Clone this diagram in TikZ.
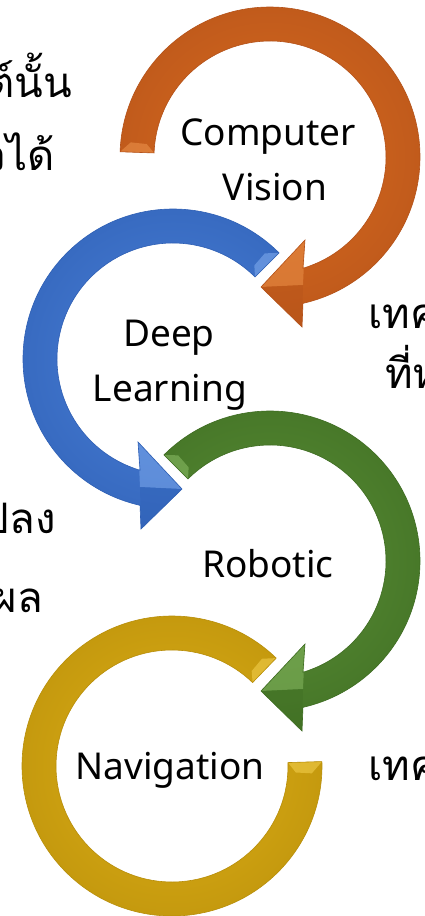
\documentclass[tikz,border=0pt]{standalone}
\usepackage{fontspec}
\setmainfont{Noto Sans}
\newfontfamily\thaifont[Script=Thai]{Loma}
\definecolor{oD}{HTML}{B4521A}
\definecolor{oM}{HTML}{D96B1E}
\definecolor{oL}{HTML}{F29A52}
\definecolor{bD}{HTML}{2E5FB4}
\definecolor{bM}{HTML}{4A80D8}
\definecolor{bL}{HTML}{8AB4F4}
\definecolor{gD}{HTML}{3E6C22}
\definecolor{gM}{HTML}{5A8F36}
\definecolor{gL}{HTML}{92C46C}
\definecolor{yD}{HTML}{B88E0A}
\definecolor{yM}{HTML}{DDAF16}
\definecolor{yL}{HTML}{F8D656}
\pgfdeclareradialshading{ringO}{\pgfpointorigin}{color(0bp)=(oM); color(32.2bp)=(oD); color(34bp)=(oM); color(36.2bp)=(oL); color(39bp)=(oM); color(41.7bp)=(oD); color(42.2bp)=(oM); color(50bp)=(oM)}
\pgfdeclareradialshading{ringB}{\pgfpointorigin}{color(0bp)=(bM); color(32.2bp)=(bD); color(34bp)=(bM); color(36.2bp)=(bL); color(39bp)=(bM); color(41.7bp)=(bD); color(42.2bp)=(bM); color(50bp)=(bM)}
\pgfdeclareradialshading{ringG}{\pgfpointorigin}{color(0bp)=(gM); color(32.2bp)=(gD); color(34bp)=(gM); color(36.2bp)=(gL); color(39bp)=(gM); color(41.7bp)=(gD); color(42.2bp)=(gM); color(50bp)=(gM)}
\pgfdeclareradialshading{ringY}{\pgfpointorigin}{color(0bp)=(yM); color(32.2bp)=(yD); color(34bp)=(yM); color(36.2bp)=(yL); color(39bp)=(yM); color(41.7bp)=(yD); color(42.2bp)=(yM); color(50bp)=(yM)}
% arrow outlines (relative to ring centre)
\def\pathO{(182:150) arc[start angle=182,end angle=437.3,radius=150] -- (32,170) -- (-9,130) -- (35,83) -- (433.5:116) arc[start angle=433.5,end angle=182,radius=116] -- cycle}
\def\pathG{(225:150) arc[start angle=225,end angle=437.3,radius=150] -- (32,170) -- (-9,130) -- (35,83) -- (433.5:116) arc[start angle=433.5,end angle=225,radius=116] -- cycle}
\def\pathB{(-45:150) arc[start angle=-45,end angle=-257.3,radius=150] -- (-32,170) -- (9,130) -- (-35,83) -- (-253.5:116) arc[start angle=-253.5,end angle=-45,radius=116] -- cycle}
\def\pathY{(-46:150) arc[start angle=-46,end angle=-361.7,radius=150] -- (-361.7:116) arc[start angle=-361.7,end angle=-46,radius=116] -- cycle}
\tikzset{
  lbl/.style={font=\fontsize{37}{37}\selectfont, text=black, inner sep=0pt, anchor=base},
  thl/.style={font=\thaifont\fontsize{42}{42}\selectfont, text=black, inner sep=0pt},
  edge/.style={line width=0.6pt}
}
\begin{document}
\begin{tikzpicture}[x=1pt,y=1pt,yscale=-1]
\useasboundingbox (0,0) rectangle (424,916);
\clip (0,0) rectangle (424,916);
\fill[white] (0,0) rectangle (424,916);
% yellow ring
\begin{scope}[shift={(172,766)}]
  \begin{scope}\clip \pathY; \shade[shading=ringY] (0,0) circle[radius=180]; \end{scope}
  \fill[yL, opacity=0.5] (-46:116) -- (-46:150) -- (-50:140) -- (-50:124) -- cycle;
  \fill[yL, opacity=0.5] (-361.7:116) -- (-361.7:150) -- (-357:140) -- (-357:124) -- cycle;
  \draw[edge, yD] \pathY;
\end{scope}
% green arrow
\begin{scope}[shift={(270,561)}]
  \begin{scope}\clip \pathG; \shade[shading=ringG] (0,0) circle[radius=180]; \end{scope}
  \fill[gL, opacity=0.5] (225:116) -- (225:150) -- (229:140) -- (229:124) -- cycle;
  \fill[gL, opacity=0.45] (-9,130) -- (35,83) -- (33,128) -- cycle;
  \fill[gD, opacity=0.35] (-9,130) -- (32,170) -- (33,128) -- cycle;
  \draw[edge, gD] \pathG;
\end{scope}
% blue arrow
\begin{scope}[shift={(173,359)}]
  \begin{scope}\clip \pathB; \shade[shading=ringB] (0,0) circle[radius=180]; \end{scope}
  \fill[bL, opacity=0.5] (-45:116) -- (-45:150) -- (-49:140) -- (-49:124) -- cycle;
  \fill[bL, opacity=0.45] (9,130) -- (-35,83) -- (-33,128) -- cycle;
  \fill[bD, opacity=0.35] (9,130) -- (-32,170) -- (-33,128) -- cycle;
  \draw[edge, bD] \pathB;
\end{scope}
% orange arrow
\begin{scope}[shift={(270,157)}]
  \begin{scope}\clip \pathO; \shade[shading=ringO] (0,0) circle[radius=180]; \end{scope}
  \fill[oL, opacity=0.5] (182:116) -- (182:150) -- (186:140) -- (186:124) -- cycle;
  \fill[oL, opacity=0.45] (-9,130) -- (35,83) -- (33,128) -- cycle;
  \fill[oD, opacity=0.35] (-9,130) -- (32,170) -- (33,128) -- cycle;
  \draw[edge, oD] \pathO;
\end{scope}
% labels
\node[lbl] (cv1) at (268,145) {Computer};
\node[lbl] (cv2) at (275,200) {Vision};
\node[lbl] (dl1) at (169,346) {Deep};
\node[lbl] (dl2) at (170,401) {Learning};
\node[lbl] (rb)  at (268,577) {Robotic};
\node[lbl] (nv)  at (170,779) {Navigation};
% cut-off Thai text fragments (as in the reference)
\node[thl, anchor=base east] (t1) at (72,97) {ต์นั้น};
\node[thl, anchor=base east] (t2) at (55,170) {วได้};
\node[thl, anchor=base west] (t3) at (368,328) {เทค};
\node[thl, anchor=base west] (t4) at (385,388) {ที่ห};
\node[thl, anchor=base east] (t5) at (56,533) {ปลง};
\node[thl, anchor=base east] (t6) at (43,612) {ผล};
\node[thl, anchor=base west] (t7) at (368,780) {เทค};
\end{tikzpicture}
\end{document}
